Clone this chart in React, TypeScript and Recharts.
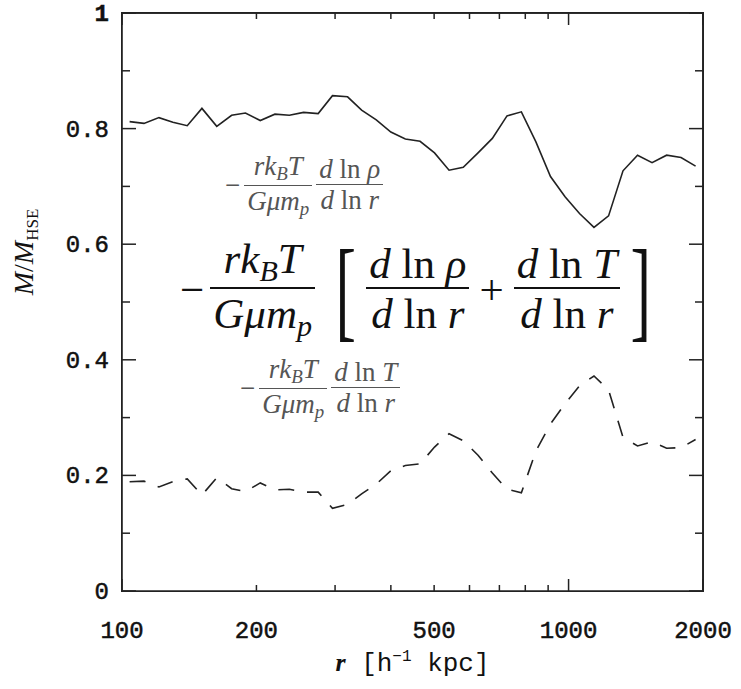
import React from "react";
import { Line, LineChart, ReferenceLine, XAxis, YAxis } from "recharts";

// radius in h^-1 kpc
const radii = [
  104, 112, 121, 130, 140, 151, 163, 176, 189, 204, 220, 237, 255, 275, 296, 320, 344, 371, 400, 431,
  465, 501, 540, 581, 627, 675, 728, 784, 845, 911, 982, 1058, 1140, 1229, 1324, 1427, 1538, 1658, 1786, 1925,
];
// solid curve: density term
const densityTerm = [
  0.812, 0.809, 0.819, 0.811, 0.805, 0.835, 0.804, 0.823, 0.827, 0.814, 0.825, 0.823, 0.828, 0.826, 0.857, 0.855,
  0.832, 0.815, 0.794, 0.782, 0.778, 0.758, 0.728, 0.733, 0.758, 0.783, 0.822, 0.829, 0.777, 0.717, 0.682, 0.653,
  0.629, 0.649, 0.727, 0.754, 0.741, 0.754, 0.75, 0.735,
];
// dashed curve: temperature term
const temperatureTerm = [
  0.189, 0.19, 0.18, 0.189, 0.194, 0.166, 0.196, 0.177, 0.172, 0.187, 0.175, 0.176, 0.171, 0.171, 0.143, 0.15,
  0.168, 0.185, 0.208, 0.217, 0.22, 0.249, 0.272, 0.26, 0.235, 0.204, 0.176, 0.17, 0.242, 0.289, 0.324, 0.355,
  0.372, 0.348, 0.266, 0.251, 0.258, 0.247, 0.248, 0.262,
];

const xTicks = [100, 200, 300, 400, 500, 600, 700, 800, 900, 1000, 2000];
const xLabels = [100, 200, 500, 1000, 2000];
const xMajor = [100, 1000, 2000];
const yTicks = [0, 0.1, 0.2, 0.3, 0.4, 0.5, 0.6, 0.7, 0.8, 0.9, 1];
const yLabels = ["0", "0.2", "0.4", "0.6", "0.8", "1"];

const data = radii.map((r, i) => ({ r, rho: densityTerm[i], temp: temperatureTerm[i] }));

const INK = "#222";
const MONO = "'Liberation Mono', 'DejaVu Sans Mono', monospace";
const SERIF = "'Liberation Serif', 'DejaVu Serif', serif";

const isLabelledY = (v: number) => Math.abs(v * 5 - Math.round(v * 5)) < 1e-6;

function BottomTick({ x, y, payload }: any) {
  const v = payload.value;
  const len = xMajor.includes(v) ? 12 : 6;
  return (
    <g>
      <line x1={x} y1={y} x2={x} y2={y - len} stroke={INK} strokeWidth={1.5} />
      {xLabels.includes(v) && (
        <text x={x} y={y + 47} textAnchor="middle" fontFamily={MONO} fontSize={24} fill="#111" stroke="#111" strokeWidth={0.5}>
          {v}
        </text>
      )}
    </g>
  );
}

function TopTick({ x, y, payload }: any) {
  const len = xMajor.includes(payload.value) ? 12 : 6;
  return <line x1={x} y1={y} x2={x} y2={y + len} stroke={INK} strokeWidth={1.5} />;
}

function LeftTick({ x, y, payload }: any) {
  const v = payload.value;
  const major = isLabelledY(v);
  const label = major ? yLabels[Math.round(v * 5)] : null;
  return (
    <g>
      <line x1={x} y1={y} x2={x + (major ? 14 : 8)} y2={y} stroke={INK} strokeWidth={1.5} />
      {label && (
        <text
          x={x - 13}
          y={y + 8}
          textAnchor="end"
          fontFamily={MONO}
          fontSize={24}
          fontWeight={label === "1" ? "bold" : "normal"}
          fill="#111"
          stroke="#111"
          strokeWidth={0.5}
        >
          {label}
        </text>
      )}
    </g>
  );
}

function RightTick({ x, y, payload }: any) {
  const major = isLabelledY(payload.value);
  return <line x1={x} y1={y} x2={x - (major ? 14 : 8)} y2={y} stroke={INK} strokeWidth={1.5} />;
}

function Frac({ num, den, bar = 1 }: { num: React.ReactNode; den: React.ReactNode; bar?: number }) {
  return (
    <span
      style={{
        display: "inline-flex",
        flexDirection: "column",
        alignItems: "center",
        verticalAlign: "middle",
        margin: "0 2px",
      }}
    >
      <span style={{ padding: "0 3px", lineHeight: 1.1 }}>{num}</span>
      <span style={{ borderTop: `${bar}px solid currentColor`, padding: "0 3px", lineHeight: 1.15, alignSelf: "stretch", textAlign: "center" }}>
        {den}
      </span>
    </span>
  );
}

const rkT = (
  <>
    <i>rk</i>
    <sub style={{ fontSize: "0.7em", verticalAlign: "-0.25em" }}>
      <i>B</i>
    </sub>
    <i>T</i>
  </>
);
const gmm = (
  <>
    <i>Gμm</i>
    <sub style={{ fontSize: "0.7em", verticalAlign: "-0.25em" }}>
      <i>p</i>
    </sub>
  </>
);
const dln = (v: string) => (
  <>
    <i>d</i> ln <i>{v}</i>
  </>
);

function SmallTerm({ v, left, top }: { v: string; left: number; top: number }) {
  return (
    <div
      style={{
        position: "absolute",
        left,
        top,
        fontFamily: SERIF,
        fontSize: 27,
        color: "#555",
        whiteSpace: "nowrap",
        display: "flex",
        alignItems: "center",
      }}
    >
      <span style={{ marginRight: 2 }}>−</span>
      <Frac num={rkT} den={gmm} />
      <Frac num={dln(v)} den={dln("r")} />
    </div>
  );
}

export default function App() {
  return (
    <div style={{ position: "absolute", left: 0, top: 0, width: 741, height: 689, background: "#fff" }}>
      <LineChart width={741} height={689} data={data} margin={{ top: 3, right: 28, bottom: 58, left: 62 }}>
        <XAxis
          xAxisId="bottom"
          dataKey="r"
          type="number"
          scale="log"
          domain={[100, 2000]}
          allowDataOverflow
          ticks={xTicks}
          interval={0}
          height={40}
          tickSize={0}
          tickMargin={0}
          tickLine={false}
          tick={<BottomTick />}
          axisLine={{ stroke: INK, strokeWidth: 1.6 }}
        />
        <XAxis
          xAxisId="top"
          orientation="top"
          dataKey="r"
          type="number"
          scale="log"
          domain={[100, 2000]}
          allowDataOverflow
          ticks={xTicks}
          interval={0}
          height={10}
          tickSize={0}
          tickMargin={0}
          tick={<TopTick />}
          axisLine={{ stroke: INK, strokeWidth: 1.6 }}
        />
        <YAxis
          yAxisId="left"
          type="number"
          domain={[0, 1]}
          allowDataOverflow
          ticks={yTicks}
          interval={0}
          width={60}
          tickSize={0}
          tickMargin={0}
          tickLine={false}
          tick={<LeftTick />}
          axisLine={{ stroke: INK, strokeWidth: 1.6 }}
        />
        <YAxis
          yAxisId="right"
          orientation="right"
          type="number"
          domain={[0, 1]}
          allowDataOverflow
          ticks={yTicks}
          interval={0}
          width={10}
          tickSize={0}
          tickMargin={0}
          tick={<RightTick />}
          axisLine={{ stroke: INK, strokeWidth: 1.6 }}
        />
        <ReferenceLine xAxisId="bottom" yAxisId="left" y={1} stroke={INK} strokeWidth={1.6} />
        <ReferenceLine xAxisId="bottom" yAxisId="left" x={2000} stroke={INK} strokeWidth={1.6} />
        {/* invisible copy so the top/right frame axes get a series of their own */}
        <Line
          xAxisId="top"
          yAxisId="right"
          dataKey="rho"
          stroke="none"
          dot={false}
          activeDot={false}
          legendType="none"
          isAnimationActive={false}
        />
        <Line
          xAxisId="bottom"
          yAxisId="left"
          dataKey="rho"
          type="linear"
          stroke="#222"
          strokeWidth={1.6}
          dot={false}
          isAnimationActive={false}
        />
        <Line
          xAxisId="bottom"
          yAxisId="left"
          dataKey="temp"
          type="linear"
          stroke="#222"
          strokeWidth={1.6}
          strokeDasharray="16 13"
          dot={false}
          isAnimationActive={false}
        />
      </LineChart>

      {/* plot frame box, matching the axis lines */}
      <div
        style={{
          position: "absolute",
          left: 121.2,
          top: 12.2,
          width: 582.6,
          height: 579.6,
          boxSizing: "border-box",
          border: `1.6px solid ${INK}`,
          pointerEvents: "none",
        }}
      />

      <SmallTerm v="ρ" left={225} top={152} />
      <SmallTerm v="T" left={240} top={355} />

      <div
        style={{
          position: "absolute",
          left: 180,
          top: 233,
          fontFamily: SERIF,
          fontSize: 43,
          color: "#111",
          whiteSpace: "nowrap",
          display: "flex",
          alignItems: "center",
        }}
      >
        <span style={{ marginRight: 4 }}>−</span>
        <Frac num={rkT} den={gmm} bar={2} />
        <span style={{ fontSize: 112, fontWeight: 100, lineHeight: 1, marginLeft: 10, transform: "scaleX(0.55)" }}>[</span>
        <Frac num={dln("ρ")} den={dln("r")} bar={2} />
        <span style={{ margin: "0 8px" }}>+</span>
        <Frac num={dln("T")} den={dln("r")} bar={2} />
        <span style={{ fontSize: 112, fontWeight: 100, lineHeight: 1, transform: "scaleX(0.55)" }}>]</span>
      </div>

      <div
        style={{
          position: "absolute",
          left: 0,
          top: 238,
          width: 44,
          height: 28,
          transform: "rotate(-90deg)",
          transformOrigin: "22px 14px",
          fontFamily: SERIF,
          fontSize: 28,
          color: "#111",
          whiteSpace: "nowrap",
          display: "flex",
          justifyContent: "center",
          overflow: "visible",
        }}
      >
        <span>
          <i>M</i>/<i>M</i>
          <sub style={{ fontSize: 17, verticalAlign: "-0.3em" }}>HSE</sub>
        </span>
      </div>

      <div
        style={{
          position: "absolute",
          left: 0,
          width: 741,
          top: 648,
          paddingLeft: 42,
          textAlign: "center",
          fontFamily: MONO,
          fontSize: 26,
          color: "#111",
          whiteSpace: "nowrap",
        }}
      >
        <b style={{ fontFamily: SERIF }}>
          <i>r</i>
        </b>{" "}
        [h<sup style={{ fontSize: 16, verticalAlign: "0.6em" }}>−1</sup> kpc]
      </div>
    </div>
  );
}
